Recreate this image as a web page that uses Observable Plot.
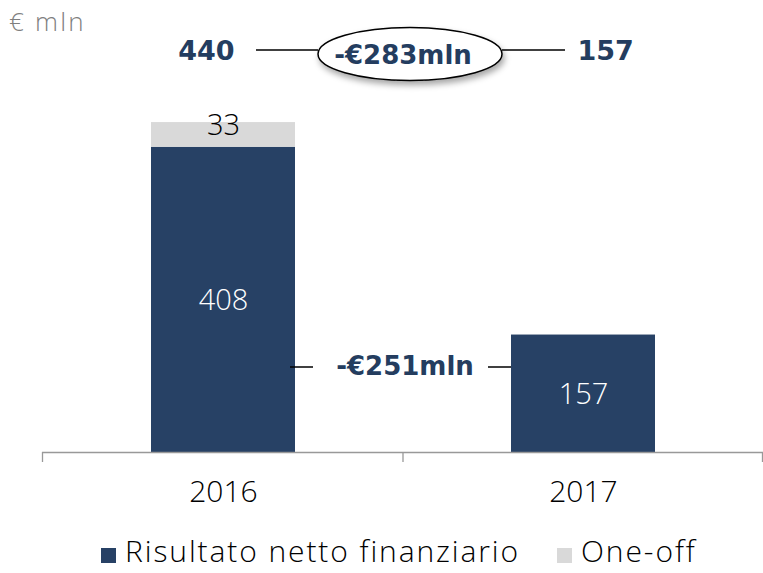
<!DOCTYPE html>
<html><head><meta charset="utf-8">
<script src="https://cdn.jsdelivr.net/npm/d3@7"></script>
<script src="https://cdn.jsdelivr.net/npm/@observablehq/plot@0.6"></script>
<style>
html,body{margin:0;padding:0;background:#fff;}
body{width:763px;height:573px;position:relative;overflow:hidden;font-family:"Open Sans",Roboto,sans-serif;}
#unit{position:absolute;left:9px;top:3px;font-size:26px;font-weight:300;letter-spacing:2.2px;color:#7f7f7f;}
#legend{position:absolute;left:101px;top:535px;display:flex;gap:37px;font-size:30px;font-weight:300;letter-spacing:1.9px;color:#000;line-height:32px;}
#legend .item{display:flex;align-items:center;}
#legend .sw{width:15px;height:15px;margin-right:9px;margin-top:8px;flex:none;}
</style></head><body>
<div id="chart"></div>
<div id="unit"></div>
<div id="legend"></div>
<script>
const years = ["2016", "2017"];
const netto = [408, 157];
const oneOff = [33, 0];
const totals = [440, 157];
const deltaTotal = "-€283mln";
const deltaNetto = "-€251mln";
const seriesNames = ["Risultato netto finanziario", "One-off"];
const seriesColors = ["#274165", "#d9d9d9"];
const unitLabel = "€ mln";

const navyText = "#243d5f";
const lightFont = "'Open Sans', Roboto, sans-serif";
const boldFont = "'DejaVu Sans', sans-serif";
const rows = [];
years.forEach((yr, i) => {
  rows.push({year: yr, series: seriesNames[0], value: netto[i]});
  if (oneOff[i] > 0) rows.push({year: yr, series: seriesNames[1], value: oneOff[i]});
});

const W = 763, H = 525;

function boundaryTicks(index, scales, values, dim) {
  const x = scales.x, bw = x.bandwidth();
  const [r0, r1] = x.range();
  const y0 = scales.y(0);
  const mid = (x(years[0]) + bw + x(years[1])) / 2;
  const g = d3.create("svg:g").attr("stroke", "#999").attr("stroke-width", 1.3);
  [r0 + 0.5, mid, r1 - 0.5].forEach(px => {
    g.append("line").attr("x1", px).attr("x2", px).attr("y1", y0).attr("y2", y0 + 10);
  });
  return g.node();
}

function annotations(index, scales, values, dim) {
  const x = scales.x, bw = x.bandwidth();
  const left = x(years[0]) + bw, right = x(years[1]);
  const mid = (left + right) / 2;
  const g = d3.create("svg:g");
  const defs = g.append("defs");
  const f = defs.append("filter").attr("id", "sh").attr("x", "-20%").attr("y", "-30%").attr("width", "140%").attr("height", "170%");
  f.append("feDropShadow").attr("dx", 2).attr("dy", 4).attr("stdDeviation", 3).attr("flood-color", "#000").attr("flood-opacity", 0.35);
  const ty = dim.marginTop + 2;
  g.append("line").attr("x1", x(years[0]) + bw / 2 + 33).attr("x2", mid - 85).attr("y1", ty).attr("y2", ty).attr("stroke", "#000").attr("stroke-width", 1.5);
  g.append("line").attr("x1", mid + 99).attr("x2", x(years[1]) + bw / 2 - 18).attr("y1", ty).attr("y2", ty).attr("stroke", "#000").attr("stroke-width", 1.5);
  g.append("ellipse").attr("cx", mid + 7).attr("cy", ty + 4).attr("rx", 92).attr("ry", 26.5)
    .attr("fill", "#fff").attr("stroke", "#000").attr("stroke-width", 1.5).attr("filter", "url(#sh)");
  const ly = scales.y(0) - 85;
  g.append("line").attr("x1", left - 5).attr("x2", left + 18).attr("y1", ly).attr("y2", ly).attr("stroke", "#000").attr("stroke-width", 1.5);
  g.append("line").attr("x1", right - 23).attr("x2", right).attr("y1", ly).attr("y2", ly).attr("stroke", "#000").attr("stroke-width", 1.5);
  return g.node();
}

const chart = Plot.plot({
  width: W, height: H,
  marginLeft: 42, marginRight: 0, marginTop: 48, marginBottom: 73,
  style: {fontFamily: lightFont, background: "#fff", overflow: "visible"},
  x: {domain: years, paddingInner: 0.6, paddingOuter: 0.3, label: null},
  y: {domain: [0, 540], axis: null},
  color: {domain: seriesNames, range: seriesColors},
  marks: [
    Plot.barY(rows, {x: "year", y: "value", fill: "series", order: seriesNames, inset: 0}),
    Plot.text(rows.filter(d => d.series === seriesNames[0]), Plot.stackY({x: "year", y: "value",
      text: d => String(d.value), fill: "#fff", fontSize: 29, fontWeight: 300, dy: 1})),
    Plot.text(rows.filter(d => d.series === seriesNames[1]), {x: "year", y: (d) => netto[years.indexOf(d.year)] + d.value / 2,
      text: d => String(d.value), fill: "#000", fontSize: 29, fontWeight: 300, dy: -9}),
    Plot.ruleY([0], {stroke: "#999", strokeWidth: 1.3}),
    boundaryTicks,
    Plot.axisX({tickSize: 0, tickPadding: 28, fontSize: 30, fontWeight: 300, fill: "#000", label: null}),
    annotations,
    Plot.text([deltaTotal], {frameAnchor: "top", lineAnchor: "middle", dx: 0, dy: 7, text: d => d, fill: navyText,
      fontSize: 26, fontWeight: "bold", fontFamily: boldFont}),
    Plot.text([deltaNetto], {frameAnchor: "bottom", lineAnchor: "middle", dx: 2, dy: -86, text: d => d, fill: navyText,
      fontSize: 26, fontWeight: "bold", fontFamily: boldFont}),
    Plot.text([totals[0]], {x: () => years[0], frameAnchor: "top", lineAnchor: "middle", textAnchor: "end", dx: 11, dy: 3, text: d => String(d),
      fill: navyText, fontSize: 27, fontWeight: "bold", fontFamily: boldFont}),
    Plot.text([totals[1]], {x: () => years[1], frameAnchor: "top", lineAnchor: "middle", textAnchor: "start", dx: -6, dy: 3, text: d => String(d),
      fill: navyText, fontSize: 27, fontWeight: "bold", fontFamily: boldFont})
  ]
});
document.getElementById("chart").appendChild(chart);
document.getElementById("unit").textContent = unitLabel;
const leg = document.getElementById("legend");
seriesNames.forEach((n, i) => {
  const it = document.createElement("div"); it.className = "item";
  const sw = document.createElement("span"); sw.className = "sw"; sw.style.background = seriesColors[i];
  const tx = document.createElement("span"); tx.textContent = n;
  it.appendChild(sw); it.appendChild(tx); leg.appendChild(it);
});
</script>
</body></html>
